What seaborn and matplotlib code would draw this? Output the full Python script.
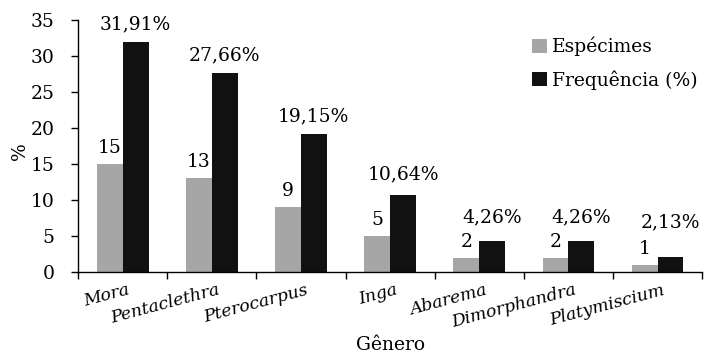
import matplotlib
matplotlib.use("Agg")
import matplotlib.pyplot as plt
import matplotlib.transforms as mtransforms
import seaborn as sns
import pandas as pd
import numpy as np

generos = ["Mora", "Pentaclethra", "Pterocarpus", "Inga", "Abarema", "Dimorphandra", "Platymiscium"]
especimes = [15, 13, 9, 5, 2, 2, 1]
frequencia = [31.91, 27.66, 19.15, 10.64, 4.26, 4.26, 2.13]
series = ["Espécimes", "Frequência (%)"]
colors = ["#A6A6A6", "#111111"]

# label offsets (points) for the frequency labels, as placed in the reference
freq_pad = [6, 6, 6, 9, 11, 11, 18]

sns.set_style("white")
plt.rcParams["font.family"] = ["DejaVu Serif"]
plt.rcParams["text.color"] = "black"
plt.rcParams["axes.labelcolor"] = "black"
plt.rcParams["xtick.color"] = "black"
plt.rcParams["ytick.color"] = "black"

FS = 13.5

df = pd.DataFrame({
    "Gênero": generos * 2,
    "valor": especimes + frequencia,
    "serie": [series[0]] * len(generos) + [series[1]] * len(generos),
})

fig = plt.figure(figsize=(7.1, 3.56), dpi=100)
ax = fig.add_axes([0.110, 0.236, 0.879, 0.708])
sns.barplot(data=df, x="Gênero", y="valor", hue="serie", hue_order=series,
            palette=colors, width=0.58, ax=ax, saturation=1, legend=True, linewidth=0)

ax.set_ylim(0, 35)
ax.set_yticks(range(0, 36, 5))
ax.set_yticklabels([str(t) for t in range(0, 36, 5)], fontsize=FS)
ax.tick_params(axis="y", length=5, direction="out", left=True, width=1, pad=12)
ax.set_xlim(-0.5, len(generos) - 0.5)

ax.set_xticks(range(len(generos)))
ax.set_xticklabels(generos, rotation=15, ha="right", rotation_mode="anchor",
                   fontstyle="italic", fontsize=12.5)
ax.tick_params(axis="x", which="major", length=0, pad=7)
shift = mtransforms.ScaledTranslation(5 / 100, 0, fig.dpi_scale_trans)
for lab in ax.get_xticklabels():
    lab.set_transform(lab.get_transform() + shift)
ax.set_xticks(np.arange(-0.5, len(generos), 1), minor=True)
ax.tick_params(axis="x", which="minor", length=5, direction="out", bottom=True, width=1)

for s in ["top", "right"]:
    ax.spines[s].set_visible(False)
for s in ["left", "bottom"]:
    ax.spines[s].set_color("black")
    ax.spines[s].set_linewidth(1)

c0, c1 = ax.containers[0], ax.containers[1]
ax.bar_label(c0, labels=[str(v) for v in especimes], fontsize=FS, padding=5)
for bar, v, p in zip(c1.patches, frequencia, freq_pad):
    ax.annotate(f"{v:.2f}%".replace(".", ","),
                (bar.get_x() + bar.get_width() / 2, bar.get_height()),
                xytext=(0, p), textcoords="offset points",
                ha="center", va="bottom", fontsize=FS)

ax.set_ylabel("%", fontsize=FS)
ax.yaxis.set_label_coords(-0.079, 0.48)
ax.set_xlabel("Gênero", fontsize=FS)
ax.xaxis.set_label_coords(0.5, -0.255)

leg = ax.legend(loc="upper right", bbox_to_anchor=(1.02, 1.0), frameon=False, fontsize=FS,
                handlelength=0.75, handleheight=0.75, handletextpad=0.3, labelspacing=0.75)

fig.savefig("out.png", dpi=100)
